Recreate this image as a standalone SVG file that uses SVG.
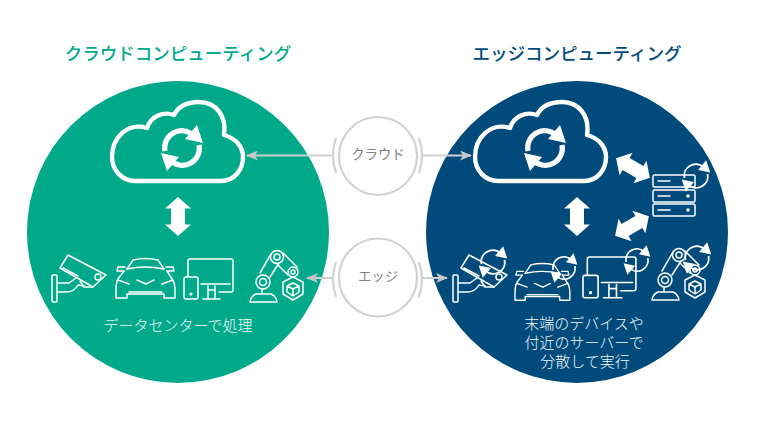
<svg xmlns="http://www.w3.org/2000/svg" xmlns:xlink="http://www.w3.org/1999/xlink" width="760" height="428" viewBox="0 0 760 428">
<style>
text{font-family:"Noto Sans CJK JP","Noto Sans",sans-serif;text-anchor:middle}
.title{font-size:17.5px;font-weight:500}
.w{font-size:15px;fill:#f4fbf9;font-weight:300}
.g{font-size:13.4px;fill:#808080}
.ln{fill:none;stroke:#fff;stroke-width:1.5;stroke-linecap:round;stroke-linejoin:round}
.cloud{fill:none;stroke:#fff;stroke-width:4.4;stroke-linejoin:round}
.big{stroke-width:5.2}
.thin{stroke-width:2.8}
.ring{fill:#fff;stroke:#d2d2d2;stroke-width:2.2}
.br{fill:none;stroke:#d2d2d2;stroke-width:2.2}
.con{stroke:#cfcfcf;stroke-width:2;fill:none;marker-end:url(#ah)}
</style>
<defs>
<marker id="ah" viewBox="0 0 12 10" refX="11" refY="5" markerWidth="12" markerHeight="10" markerUnits="userSpaceOnUse" orient="auto"><path d="M0 0L12 5L0 10L3 5Z" fill="#c8c8c8"/></marker>
<path id="cloudp" d="M135 181H221C235 181 243 169 243 157C243 146 235 138 224 135C227 116 216 102 199 102C187 102 178 107 174 115C163 111 151 116 147 128C127 122 112 138 112 157C112 170 122 181 135 181Z"/>
<g id="sync">
<path d="M-17 3A17 17 0 0 1 11-13" fill="none" stroke="#fff"/>
<path d="M17-3A17 17 0 0 1-11 13" fill="none" stroke="#fff"/>
<path d="M15-23L21-5L3-9Z M-15 23L-21 5L-3 9Z" fill="#fff"/>
</g>
<path id="dbl" d="M0-19.500L13-8H7V8H13L0 19.500L-13 8H-7V-8H-13Z" fill="#fff"/>
<g id="camera" class="ln">
<path d="M68 255L106 275L93 287L60 268Z"/><path d="M63 268L78 276"/><circle cx="98" cy="277" r="3"/>
<path d="M80 281L84 287H90L93 287"/>
<rect x="52" y="275" width="5" height="27" rx="1"/>
<path d="M57 283H69L76 278M57 292H66Q74 292 78 285L84 286"/>
</g>
<g id="car" class="ln">
<path d="M127 269L133 260Q145 257 158 260L164 269"/>
<path d="M127 269Q145 265 164 269"/>
<path d="M125 267H118L117 271H124M166 267H173L174 271H167"/>
<path d="M124 271L118 279Q116 283 116 290V298H127V294H164V298H175V290Q175 283 172 279L167 271"/>
<path d="M118 280L129 284M173 280L162 284M137 280L146 284L154 280"/>
<path d="M129 292H162"/>
</g>
<g id="monitor" class="ln">
<path d="M188 276V261Q188 259 190 259H231Q233 259 233 261V290Q233 292 231 292H219"/>
<path d="M201 284H230M208 286V299M215 286V299M208 290H215M203 299H220"/>
<rect x="184" y="277" width="14" height="22" rx="2"/><circle cx="191" cy="294" r=".8"/>
</g>
<g id="robot" class="ln">
<path d="M250 302Q251 296 256 294H271Q276 296 277 302Z"/>
<path d="M262 289V294"/>
<circle cx="263" cy="282" r="7"/><circle cx="263" cy="282" r="3.5"/>
<path d="M260 273L271 254M270 277L279 263"/>
<circle cx="277" cy="257" r="6.500"/><circle cx="277" cy="257" r="3"/>
<path d="M283 253L297 267M278 265L288 275"/>
<circle cx="293" cy="272" r="5"/><circle cx="293" cy="272" r="2"/>
<path d="M293 277L303 282V294L293 300L283 294V282Z"/>
<path d="M293 283L299 286V292L293 296L287 292V286ZM287 286L293 289L299 286M293 289V296"/>
</g>
</defs>

<g id="left-circle"><circle cx="178" cy="232" r="151" fill="#00a98a"/></g>
<g id="right-circle"><circle cx="577" cy="232" r="151" fill="#004a7c"/></g>

<g id="title-left"><text class="title" x="178" y="60" fill="#00a98a">クラウドコンピューティング</text></g>
<g id="title-right"><text class="title" x="577" y="60" fill="#004a7c">エッジコンピューティング</text></g>

<g id="left-cloud"><use href="#cloudp" class="cloud"/><use href="#sync" x="182" y="148" class="big"/></g>
<g id="left-camera"><use href="#camera"/></g>
<g id="left-car"><use href="#car"/></g>
<g id="left-monitor"><use href="#monitor"/></g>
<g id="left-robot"><use href="#robot"/></g>
<g id="left-caption"><text class="w" x="178" y="331">データセンターで処理</text></g>

<g id="right-cloud"><use href="#cloudp" x="363" class="cloud"/><use href="#sync" x="545" y="148" class="big"/></g>
<g id="right-server">
<g class="ln">
<rect x="653" y="175" width="42" height="12" rx="1.500"/><rect x="653" y="190" width="42" height="12" rx="1.500"/><rect x="653" y="204" width="42" height="12" rx="1.500"/>
<path d="M658 181H670M658 196H670M658 210H670"/>
<circle cx="688" cy="196" r="1"/><circle cx="688" cy="210" r="1"/>
</g>
<use href="#sync" transform="translate(696 176) scale(.68)" class="thin"/>
</g>
<g id="right-camera"><use href="#camera" x="401"/><use href="#sync" transform="translate(493 262) scale(.68)" class="thin"/></g>
<g id="right-car"><use href="#car" transform="translate(515 263) scale(.93) translate(-116 -258)"/><use href="#sync" transform="translate(564 268) scale(.64)" class="thin"/></g>
<g id="right-monitor"><use href="#monitor" transform="translate(583 257) scale(1.08 1.02) translate(-184 -259)"/><use href="#sync" transform="translate(637 260) scale(.64)" class="thin"/></g>
<g id="right-robot"><use href="#robot" x="402" y="-2"/><use href="#sync" transform="translate(697 258) scale(.68)" class="thin"/></g>
<g id="right-caption">
<text class="w" x="584" y="329">末端のデバイスや</text>
<text class="w" x="584" y="348">付近のサーバーで</text>
<text class="w" x="585" y="367">分散して実行</text>
</g>

<g id="connectors">
<path class="con" d="M333 155.500H247"/>
<path class="con" d="M422 155.500H471"/>
<path class="con" d="M333 278H307"/>
<path class="con" d="M422 278H447"/>
<use href="#dbl" x="178" y="216.500"/>
<use href="#dbl" x="577" y="216.500"/>
<use href="#dbl" transform="translate(633 168) rotate(-60)"/>
<use href="#dbl" transform="translate(632 226) rotate(60)"/>
</g>

<g id="hub-cloud">
<circle class="ring" cx="378" cy="156" r="39"/>
<path class="br" d="M336 138Q330 155.500 336 173M419 138Q425 155.500 419 173"/>
<text class="g" x="378" y="159">クラウド</text>
</g>
<g id="hub-edge">
<circle class="ring" cx="378" cy="277.500" r="39"/>
<path class="br" d="M336 262Q330 279 336 297M419 262Q425 279 419 297"/>
<text class="g" x="378" y="281">エッジ</text>
</g>
</svg>
